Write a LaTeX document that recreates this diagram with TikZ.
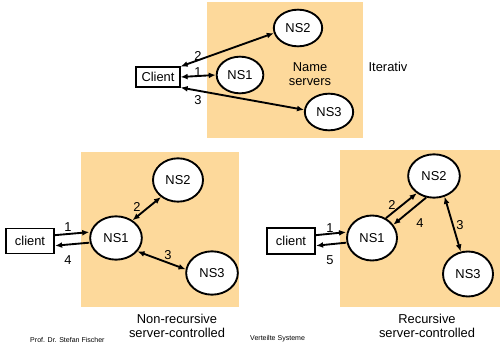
\documentclass[tikz,border=0pt]{standalone}
\usepackage{fontspec}
\setmainfont{Liberation Sans}
\usepackage{xcolor}
\usepackage{tikz}
\usetikzlibrary{shapes.geometric, arrows.meta, positioning, calc}
\definecolor{nsorange}{RGB}{253,217,155}
\tikzstyle{server} = [ellipse, minimum width=1.5cm, minimum height=1.3cm, inner sep=0pt, draw=black, line width=1.6pt, fill=white, font=\fontsize{11}{12}\selectfont]
\tikzstyle{clientbox} = [rectangle, minimum width=1.35cm, minimum height=0.65cm, inner sep=1pt, draw=black, line width=1.6pt, fill=white, font=\fontsize{11}{12}\selectfont]
\tikzstyle{num} = [inner sep=0pt, font=\fontsize{11}{12}\selectfont]
\tikzstyle{caption} = [inner sep=0pt, align=center, font=\fontsize{11}{12}\selectfont]
\tikzstyle{footer} = [inner sep=0pt, font=\fontsize{6}{7}\selectfont]
\tikzstyle{arrow} = [line width=1.6pt,-{Latex[length=6pt,width=5pt]}]
\tikzstyle{twoway} = [line width=1.6pt,{Latex[length=6pt,width=5pt]}-{Latex[length=6pt,width=5pt]}]

\begin{document}
\begin{tikzpicture}[x=0.03cm, y=-0.03cm]
        \useasboundingbox (0,0) rectangle (501,345);

        % Panels
        \fill[nsorange] (207,2) rectangle (363,138);
        \fill[nsorange] (81,152) rectangle (239,307);
        \fill[nsorange] (340,150) rectangle (500,307);

        % Iterativ
        \node (clientI) [clientbox, minimum width=1.3cm, minimum height=0.6cm] at (158,77) {Client};
        \node (nsI) [server, minimum width=1.4cm, minimum height=1.1cm] at (240,75) {NS1};
        \node (nsII) [server, minimum width=1.45cm, minimum height=1.1cm] at (298,28) {NS2};
        \node (nsIII) [server, minimum width=1.45cm, minimum height=1.1cm] at (329,112) {NS3};
        \node (names) [caption] at (310,74) {Name\\servers};
        \node (iterativ) [caption] at (388,67) {Iterativ};
        \node (itII) [num] at (198,56) {2};
        \node (itI) [num] at (198,72) {1};
        \node (itIII) [num] at (198,100) {3};

        \draw [twoway] (clientI.25) -- (nsII.192);
        \draw [twoway] (clientI.east) -- (nsI.west);
        \draw [twoway] (clientI.-25) -- (nsIII.175);

        % Non-recursive
        \node (clientA) [clientbox, minimum width=1.45cm, minimum height=0.75cm] at (30,241) {client};
        \node (nsA) [server, minimum width=1.55cm] at (116,238) {NS1};
        \node (nsAA) [server] at (178,180) {NS2};
        \node (nsAAA) [server, minimum width=1.55cm] at (212,273) {NS3};
        \node (nrI) [num] at (68,227) {1};
        \node (nrIV) [num] at (68,260) {4};
        \node (nrII) [num] at (137,207) {2};
        \node (nrIII) [num] at (168,255) {3};
        \node (nonrec) [caption] at (177,326) {Non-recursive\\server-controlled};

        \draw [arrow] ([yshift=5pt]clientA.east) -- ([yshift=5pt]nsA.west);
        \draw [arrow] ([yshift=-4pt]nsA.west) -- ([yshift=-4pt]clientA.east);
        \draw [twoway] (nsA.47) -- (nsAA.225);
        \draw [twoway] (nsA.-32) -- (nsAAA.172);

        % Recursive
        \node (clientB) [clientbox, minimum width=1.45cm, minimum height=0.8cm] at (291,241) {client};
        \node (nsB) [server, minimum width=1.5cm, minimum height=1.35cm] at (372,238) {NS1};
        \node (nsBB) [server, minimum width=1.55cm] at (434,176) {NS2};
        \node (nsBBB) [server, minimum height=1.35cm] at (468,274) {NS3};
        \node (rI) [num] at (330,228) {1};
        \node (rV) [num] at (330,260) {5};
        \node (rII) [num] at (392,205) {2};
        \node (rIV) [num] at (420,223) {4};
        \node (rIII) [num] at (460,225) {3};
        \node (rec) [caption] at (427,326) {Recursive\\server-controlled};

        \draw [arrow] ([yshift=5pt]clientB.east) -- ([yshift=5pt]nsB.west);
        \draw [arrow] ([yshift=-4pt]nsB.west) -- ([yshift=-4pt]clientB.east);
        \draw [arrow] (nsB.55) -- (nsBB.225);
        \draw [arrow] (nsBB.250) -- (nsB.32);
        \draw [twoway] (nsBB.-63) -- (nsBBB.108);

        % Footer
        \node (author) [footer, anchor=west] at (30,340) {Prof. Dr. Stefan Fischer};
        \node (lecture) [footer, anchor=west] at (250,339) {Verteilte Systeme};

    \end{tikzpicture}
\end{document}
